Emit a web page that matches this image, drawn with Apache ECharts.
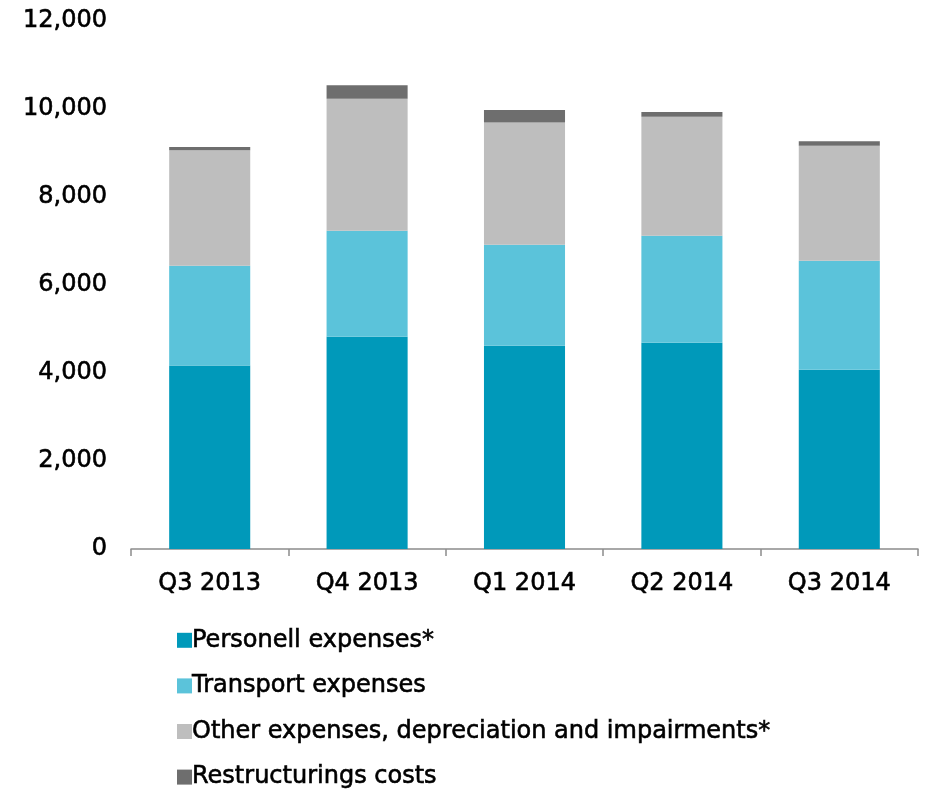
<!DOCTYPE html>
<html>
<head>
<meta charset="utf-8">
<script src="https://cdn.jsdelivr.net/npm/echarts@6/dist/echarts.min.js"></script>
<style>
  html, body { margin: 0; padding: 0; background: #fff; }
  #chart { width: 929px; height: 792px; }
</style>
</head>
<body>
<div id="chart"></div>
<script>
const quarters = ['Q3 2013', 'Q4 2013', 'Q1 2014', 'Q2 2014', 'Q3 2014']
const personell = [4170, 4825, 4620, 4690, 4075]
const transport = [2270, 2410, 2295, 2430, 2475]
const otherExp = [2620, 3000, 2780, 2705, 2615]
const restructuring = [75, 305, 280, 105, 100]
const yTicks = [0, 2000, 4000, 6000, 8000, 10000, 12000]

const seriesNames = [
  'Personell expenses*',
  'Transport expenses',
  'Other expenses, depreciation and impairments*',
  'Restructurings costs'
]
const seriesColors = ['#0099BA', '#5BC3DA', '#BEBEBE', '#6E6E6E']
const seriesData = [personell, transport, otherExp, restructuring]

const chart = echarts.init(document.getElementById('chart'))

// slight stroke to get the medium weight of the original font
const txt = { color: '#000', textBorderColor: '#000', textBorderWidth: 0.6 }

chart.setOption({
  backgroundColor: '#fff',
  animation: false,
  textStyle: { fontFamily: 'DejaVu Sans' },
  grid: { left: 131, right: 11, top: 21, bottom: 243 },
  legend: {
    orient: 'vertical',
    left: 172,
    top: 623,
    height: 170,
    itemWidth: 15,
    itemHeight: 15,
    itemGap: 21,
    icon: 'rect',
    textStyle: { ...txt, fontSize: 24, fontFamily: 'DejaVu Sans', padding: [0, 0, 0, -5] },
    data: seriesNames
  },
  xAxis: {
    type: 'category',
    data: quarters,
    axisLine: { lineStyle: { color: '#8c8c8c', width: 1.5 } },
    axisTick: { show: true, length: 7, lineStyle: { color: '#8c8c8c', width: 1.5 } },
    axisLabel: { ...txt, fontSize: 24, margin: 23 }
  },
  yAxis: {
    type: 'value',
    min: yTicks[0],
    max: yTicks[yTicks.length - 1],
    interval: 2000,
    axisLine: { show: false },
    axisTick: { show: false },
    splitLine: { show: false },
    axisLabel: {
      ...txt,
      fontSize: 24,
      margin: 24,
      formatter: (v) => v.toLocaleString('en-US')
    }
  },
  series: seriesData.map((d, i) => ({
    name: seriesNames[i],
    type: 'bar',
    stack: 'total',
    barWidth: '51.5%',
    data: d,
    itemStyle: { color: seriesColors[i] }
  }))
})
</script>
</body>
</html>
